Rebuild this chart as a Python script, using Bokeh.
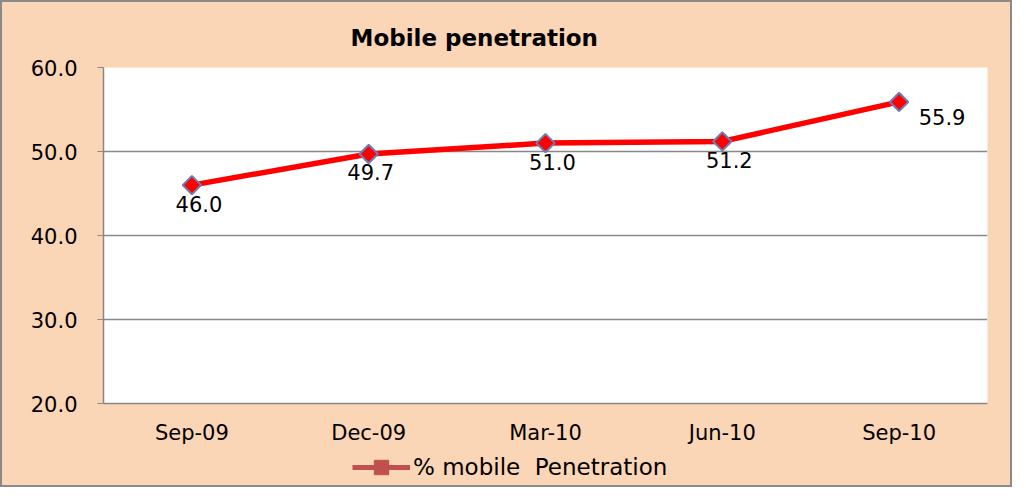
from bokeh.plotting import figure
from bokeh.layouts import column
from bokeh.models import ColumnDataSource, Legend, LegendItem, Title, Range1d, FixedTicker
from bokeh.core.properties import value
from bokeh.embed import file_html
from bokeh.resources import INLINE

categories = ["Sep-09", "Dec-09", "Mar-10", "Jun-10", "Sep-10"]
penetration = [46.0, 49.7, 51.0, 51.2, 55.9]
labels = ["46.0", "49.7", "51.0", "51.2", "55.9"]
y_ticks = [20, 30, 40, 50, 60]
y_tick_labels = {20: "20.0", 30: "30.0", 40: "40.0", 50: "50.0", 60: "60.0"}
series_name = "% mobile  Penetration"

# label offsets (style)
label_dx = [7, 2, 7, 7, 43]
label_dy = [19, 18, 19, 19, 15]

PEACH = "#FAD5B6"
GRAY = "#888888"
FONT = "DejaVu Sans"

p = figure(width=1008, height=445, x_range=categories, y_range=Range1d(20, 60),
           output_backend="svg", toolbar_location=None,
           background_fill_color="white", border_fill_color=PEACH,
           min_border_left=101, min_border_right=23, min_border_top=65, min_border_bottom=43)
p.title = None
p.add_layout(Title(text="Mobile penetration", text_font=FONT, text_font_size="23px",
                   text_font_style="bold", text_color="black", align="left", offset=247,
                   standoff=34), "above")

p.outline_line_color = None
p.xgrid.grid_line_color = None
p.ygrid.grid_line_color = GRAY
p.ygrid.grid_line_width = 1.5
p.yaxis.ticker = FixedTicker(ticks=y_ticks)
p.yaxis.major_label_overrides = y_tick_labels
p.yaxis.axis_line_color = GRAY
p.yaxis.axis_line_width = 1.5
p.yaxis.major_tick_line_color = GRAY
p.yaxis.major_tick_out = 6
p.yaxis.major_tick_in = 0
p.yaxis.minor_tick_line_color = None
p.yaxis.major_label_standoff = 20
p.yaxis.major_label_text_font = FONT
p.yaxis.major_label_text_font_size = "21px"
p.yaxis.major_label_text_color = "black"

p.xaxis.axis_line_color = GRAY
p.xaxis.axis_line_width = 1.5
p.xaxis.major_tick_line_color = None
p.xaxis.minor_tick_line_color = None
p.xaxis.major_label_standoff = 11
p.xaxis.major_label_text_font = FONT
p.xaxis.major_label_text_font_size = "21px"
p.xaxis.major_label_text_color = "black"

src = ColumnDataSource(dict(x=categories, y=penetration, lab=labels, dx=label_dx, dy=label_dy))
p.line("x", "y", source=src, line_color="#FF0000", line_width=5.5)
p.scatter("x", "y", source=src, marker="square", angle=0.785398, size=13, fill_color="#FF0000",
          line_color="#6E7DB5", line_width=2)
p.text("x", "y", text="lab", source=src, x_offset="dx", y_offset="dy",
       text_align="center", text_baseline="middle", text_font=value(FONT),
       text_font_size="21px", text_color="black")

# legend strip below the chart
lp = figure(width=1008, height=38, x_range=Range1d(0, 1), y_range=Range1d(0, 1),
            output_backend="svg", toolbar_location=None,
            background_fill_alpha=0, border_fill_color=PEACH,
            min_border_left=101, min_border_right=23, min_border_top=0, min_border_bottom=0)
lp.axis.visible = False
lp.grid.visible = False
lp.outline_line_color = None
nan = float("nan")
sw_src = ColumnDataSource(dict(x=[nan], y=[nan]))
lg_line = lp.line("x", "y", source=sw_src, line_color="#C0504D", line_width=5)
lg_sq = lp.scatter("x", "y", source=sw_src, marker="square", size=14,
                   fill_color="#C0504D", line_color="#C0504D")
legend = Legend(items=[LegendItem(label=series_name, renderers=[lg_line, lg_sq])],
                orientation="horizontal", location=(249, 0),
                background_fill_alpha=0, border_line_color=None,
                label_text_font=FONT, label_text_font_size="23px", label_text_color="black",
                glyph_width=58, glyph_height=36, padding=0, margin=0, label_standoff=3)
lp.add_layout(legend)

layout = column(p, lp, spacing=0,
                styles={"background-color": PEACH, "border": "2px solid #8a8a8a"})
open("out.html", "w").write(file_html(layout, INLINE))
